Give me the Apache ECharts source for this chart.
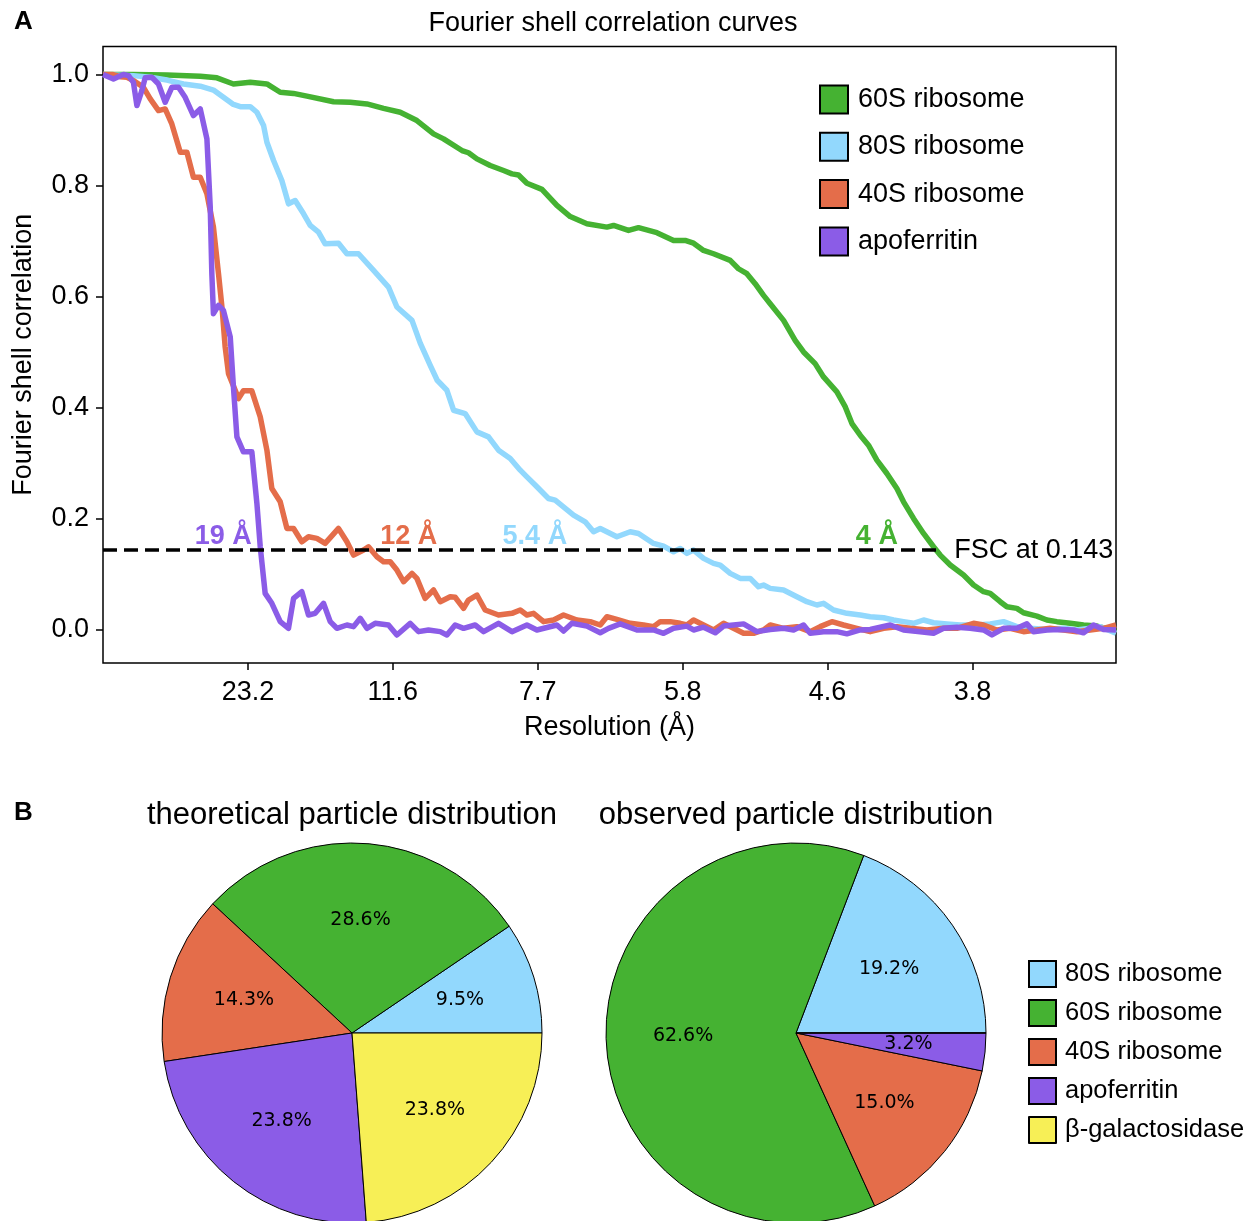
<!DOCTYPE html>
<html><head><meta charset="utf-8">
<script src="https://cdn.jsdelivr.net/npm/echarts@6/dist/echarts.min.js"></script>
<style>html,body{margin:0;padding:0;background:#fff}#c{width:1256px;height:1221px}</style>
</head><body><div id="c"></div>
<script>
// x values: spatial frequency in units of 1/23.2 Å^-1 (tick k => resolution 23.2/k Å)
const xTickValues = [1, 2, 3, 4, 5, 6];
const xTickLabels = ['23.2', '11.6', '7.7', '5.8', '4.6', '3.8'];
const yTickValues = [0, 0.2, 0.4, 0.6, 0.8, 1.0];
const seriesNames = ['60S ribosome', '80S ribosome', '40S ribosome', 'apoferritin'];

const fsc60S = [[0,1.0],[0.208,1.0],[0.441,0.999],[0.671,0.997],[0.786,0.994],[0.900,0.983],[1.016,0.986],[1.131,0.983],[1.223,0.968],[1.314,0.966],[1.407,0.961],[1.591,0.951],[1.706,0.950],[1.821,0.947],[1.936,0.939],[2.051,0.932],[2.166,0.917],[2.281,0.893],[2.350,0.884],[2.477,0.863],[2.522,0.859],[2.580,0.848],[2.672,0.836],[2.764,0.827],[2.822,0.821],[2.867,0.819],[2.925,0.804],[3.029,0.793],[3.132,0.764],[3.224,0.744],[3.339,0.731],[3.477,0.725],[3.523,0.728],[3.626,0.719],[3.695,0.724],[3.822,0.715],[3.937,0.701],[4.017,0.701],[4.075,0.696],[4.144,0.683],[4.213,0.677],[4.328,0.665],[4.385,0.650],[4.443,0.641],[4.500,0.623],[4.558,0.602],[4.604,0.587],[4.696,0.557],[4.776,0.521],[4.834,0.500],[4.914,0.479],[4.972,0.455],[5.064,0.428],[5.122,0.401],[5.168,0.371],[5.225,0.350],[5.282,0.332],[5.340,0.305],[5.409,0.281],[5.478,0.254],[5.524,0.230],[5.593,0.200],[5.662,0.173],[5.731,0.149],[5.777,0.134],[5.846,0.116],[5.938,0.098],[6.007,0.080],[6.076,0.068],[6.122,0.065],[6.191,0.050],[6.237,0.041],[6.306,0.038],[6.352,0.030],[6.444,0.024],[6.513,0.017],[6.582,0.014],[6.674,0.011],[6.766,0.008],[6.859,0.006],[6.99,-0.003]];

const fsc80S = [[0,1.0],[0.210,0.998],[0.326,0.995],[0.441,0.990],[0.555,0.983],[0.671,0.979],[0.762,0.972],[0.831,0.959],[0.900,0.946],[0.947,0.942],[1.016,0.942],[1.062,0.932],[1.108,0.908],[1.131,0.878],[1.177,0.845],[1.234,0.809],[1.280,0.767],[1.326,0.773],[1.384,0.749],[1.430,0.728],[1.487,0.716],[1.533,0.695],[1.625,0.696],[1.683,0.677],[1.763,0.677],[1.867,0.647],[1.970,0.617],[2.028,0.581],[2.132,0.557],[2.189,0.516],[2.258,0.476],[2.306,0.449],[2.373,0.431],[2.419,0.395],[2.499,0.389],[2.580,0.356],[2.660,0.347],[2.729,0.323],[2.810,0.308],[2.879,0.287],[2.925,0.275],[2.994,0.257],[3.074,0.236],[3.120,0.233],[3.247,0.206],[3.327,0.194],[3.385,0.176],[3.431,0.182],[3.546,0.167],[3.638,0.176],[3.695,0.173],[3.799,0.155],[3.868,0.150],[3.937,0.140],[3.983,0.146],[4.029,0.137],[4.075,0.143],[4.144,0.128],[4.213,0.119],[4.259,0.116],[4.328,0.101],[4.397,0.092],[4.466,0.092],[4.523,0.077],[4.558,0.080],[4.604,0.074],[4.696,0.071],[4.788,0.059],[4.857,0.050],[4.926,0.044],[4.972,0.047],[5.041,0.035],[5.133,0.029],[5.225,0.026],[5.294,0.023],[5.386,0.021],[5.455,0.017],[5.524,0.014],[5.593,0.011],[5.662,0.017],[5.731,0.012],[5.823,0.010],[5.915,0.008],[6.030,0.008],[6.122,0.010],[6.214,0.014],[6.306,0.005],[6.398,0.002],[6.513,0.000],[6.628,0.002],[6.720,-0.001],[6.812,0.002],[6.881,0.005],[6.99,-0.007]];

const fsc40S = [[0,1.0],[0.070,1.0],[0.119,0.996],[0.165,0.995],[0.210,0.989],[0.279,0.977],[0.326,0.956],[0.383,0.935],[0.429,0.938],[0.475,0.911],[0.533,0.860],[0.579,0.860],[0.624,0.815],[0.671,0.815],[0.717,0.785],[0.762,0.725],[0.797,0.641],[0.823,0.575],[0.843,0.509],[0.866,0.461],[0.935,0.416],[0.969,0.430],[1.027,0.430],[1.085,0.383],[1.131,0.323],[1.165,0.254],[1.223,0.230],[1.269,0.182],[1.315,0.182],[1.372,0.158],[1.418,0.167],[1.476,0.164],[1.533,0.155],[1.625,0.182],[1.683,0.158],[1.729,0.134],[1.798,0.143],[1.832,0.149],[1.890,0.131],[1.936,0.122],[1.982,0.122],[2.028,0.107],[2.074,0.086],[2.132,0.101],[2.166,0.092],[2.223,0.056],[2.281,0.071],[2.327,0.050],[2.396,0.059],[2.430,0.058],[2.488,0.038],[2.522,0.053],[2.580,0.062],[2.637,0.035],[2.729,0.026],[2.822,0.029],[2.879,0.035],[2.925,0.026],[2.971,0.029],[3.040,0.014],[3.109,0.017],[3.178,0.026],[3.270,0.017],[3.362,0.014],[3.431,0.008],[3.477,0.023],[3.546,0.018],[3.638,0.011],[3.730,0.008],[3.799,0.005],[3.845,0.014],[3.914,0.014],[3.983,0.011],[4.029,0.008],[4.075,0.017],[4.144,0.008],[4.213,-0.001],[4.282,0.011],[4.351,0.002],[4.420,-0.007],[4.489,-0.007],[4.558,-0.001],[4.604,0.008],[4.696,0.002],[4.788,0.005],[4.880,-0.004],[4.949,0.005],[5.030,0.014],[5.110,0.008],[5.202,0.002],[5.294,-0.004],[5.386,0.002],[5.478,0.005],[5.570,0.002],[5.685,-0.001],[5.800,0.002],[5.892,0.002],[6.007,0.011],[6.076,0.008],[6.168,-0.001],[6.260,0.002],[6.352,-0.004],[6.444,-0.001],[6.536,0.002],[6.628,-0.001],[6.720,-0.004],[6.812,-0.001],[6.904,0.002],[6.99,0.008]];

const fscApoferritin = [[0,1.0],[0.072,0.992],[0.141,1.0],[0.176,0.998],[0.210,0.986],[0.234,0.944],[0.268,0.971],[0.291,0.994],[0.337,0.995],[0.383,0.983],[0.429,0.950],[0.475,0.977],[0.521,0.977],[0.567,0.959],[0.624,0.926],[0.671,0.938],[0.717,0.884],[0.740,0.761],[0.751,0.641],[0.762,0.569],[0.797,0.584],[0.831,0.575],[0.878,0.527],[0.900,0.437],[0.924,0.347],[0.969,0.320],[1.027,0.320],[1.062,0.227],[1.085,0.149],[1.119,0.065],[1.165,0.047],[1.223,0.014],[1.280,0.002],[1.315,0.056],[1.372,0.068],[1.418,0.026],[1.464,0.029],[1.522,0.047],[1.568,0.014],[1.614,0.002],[1.683,0.008],[1.729,0.005],[1.775,0.020],[1.821,0.002],[1.878,0.011],[1.970,0.008],[2.028,-0.010],[2.120,0.011],[2.177,-0.004],[2.246,-0.001],[2.327,-0.004],[2.373,-0.010],[2.430,0.008],[2.488,0.002],[2.568,0.008],[2.626,-0.004],[2.729,0.011],[2.822,-0.004],[2.925,0.008],[2.994,-0.001],[3.132,0.008],[3.178,-0.003],[3.236,0.011],[3.339,0.006],[3.431,-0.006],[3.488,0.002],[3.569,0.010],[3.684,-0.001],[3.799,-0.001],[3.868,-0.007],[3.937,0.002],[4.029,0.006],[4.075,-0.001],[4.144,0.004],[4.225,-0.006],[4.282,0.006],[4.351,0.008],[4.420,0.010],[4.512,-0.004],[4.604,0.000],[4.696,0.002],[4.765,-0.001],[4.834,0.008],[4.880,-0.007],[4.972,-0.004],[5.064,-0.004],[5.133,-0.008],[5.225,-0.001],[5.294,0.000],[5.432,0.008],[5.524,-0.001],[5.639,-0.004],[5.731,-0.007],[5.800,0.002],[5.892,0.004],[5.984,0.002],[6.076,-0.001],[6.134,-0.010],[6.214,0.002],[6.306,0.002],[6.375,0.010],[6.421,-0.004],[6.513,-0.001],[6.605,0.000],[6.697,-0.001],[6.766,-0.006],[6.835,0.008],[6.904,0.000],[6.99,-0.001]];

const fscThreshold = 0.143;
const fscLineEndX = 5.75;
const fscLabelX = 5.87;
const resolutionLabels = ['19 Å', '12 Å', '5.4 Å', '4 Å'];
const resolutionLabelX = [0.83, 2.11, 2.98, 5.34];
const resolutionLabelY = 0.168;

const pieCategories = ['80S ribosome', '60S ribosome', '40S ribosome', 'apoferritin', 'β-galactosidase'];
const theoreticalPct = [9.5, 28.6, 14.3, 23.8, 23.8];
const observedPct = [19.2, 62.6, 15.0, 3.2, 0];

const colorOf = {
  '60S ribosome': '#45b232',
  '80S ribosome': '#92d8fd',
  '40S ribosome': '#e46d4a',
  'apoferritin': '#8b5ce7',
  'β-galactosidase': '#f7ef56'
};
const FONT = "'Liberation Sans', Arial, Helvetica, sans-serif";
const PIE_FONT = "'DejaVu Sans', sans-serif";

const chart = echarts.init(document.getElementById('c'), null, {renderer: 'canvas'});

const curveData = [fsc60S, fsc80S, fsc40S, fscApoferritin];
const lineSeries = seriesNames.map((n, i) => ({
  name: n, type: 'line', data: curveData[i], showSymbol: false, symbol: 'none',
  itemStyle: {color: colorOf[n]},
  lineStyle: {color: colorOf[n], width: 5.5, join: 'round'},
  animation: false, z: 3 + i
}));

const labelColors = [colorOf['apoferritin'], colorOf['40S ribosome'], colorOf['80S ribosome'], colorOf['60S ribosome']];

function pieData(vals) {
  return pieCategories.map((n, i) => ({name: n, value: vals[i], itemStyle: {color: colorOf[n]}}));
}
function pieLabelData(vals) {
  return pieCategories.map((n, i) => ({name: n, value: vals[i], label: {show: vals[i] > 0}}));
}
function pieSeries(vals, cx) {
  return [{
    type: 'pie', center: [cx, 1033], radius: [0, 190], startAngle: 0, clockwise: false,
    data: pieData(vals), label: {show: false}, labelLine: {show: false},
    itemStyle: {borderColor: '#000', borderWidth: 1}, emphasis: {disabled: true}, silent: true, animation: false
  }, {
    type: 'pie', center: [cx, 1033], radius: [30, 190], startAngle: 0, clockwise: false,
    data: pieLabelData(vals), itemStyle: {color: 'rgba(0,0,0,0)', borderWidth: 0},
    label: {show: true, position: 'inside', fontFamily: PIE_FONT, fontSize: 19, color: '#000', textBorderWidth: 0, opacity: 1,
      formatter: p => p.value.toFixed(1) + '%'},
    labelLine: {show: false}, emphasis: {disabled: true}, silent: true, animation: false, z: 5
  }];
}

const option = {
  backgroundColor: '#fff',
  animation: false,
  textStyle: {fontFamily: FONT},
  grid: {left: 103, top: 46.5, width: 1013, height: 616.5, show: true, borderColor: '#000', borderWidth: 1.5},
  xAxis: {
    type: 'value', min: 0, max: 6.99,
    name: 'Resolution (Å)', nameLocation: 'middle', nameGap: 51,
    nameTextStyle: {fontSize: 27, color: '#000', fontFamily: FONT},
    axisLine: {show: false, onZero: false},
    axisTick: {show: true, inside: false, customValues: xTickValues, length: 7, lineStyle: {color: '#000', width: 1.5}},
    axisLabel: {customValues: xTickValues, fontSize: 27, color: '#000', fontFamily: FONT, margin: 16,
      formatter: v => xTickLabels[xTickValues.indexOf(Math.round(v))] || ''},
    splitLine: {show: false}
  },
  yAxis: {
    type: 'value', min: -0.0605, max: 1.0505,
    name: 'Fourier shell correlation', nameLocation: 'middle', nameGap: 66,
    nameTextStyle: {fontSize: 27, color: '#000', fontFamily: FONT},
    axisLine: {show: false, onZero: false},
    axisTick: {show: true, inside: false, customValues: yTickValues, length: 7, lineStyle: {color: '#000', width: 1.5}},
    axisLabel: {customValues: yTickValues, fontSize: 27, color: '#000', fontFamily: FONT, margin: 14,
      formatter: v => v.toFixed(1)},
    splitLine: {show: false}
  },
  legend: [{
    data: seriesNames, orient: 'vertical', left: 819, top: 84.5, padding: 0, itemWidth: 28, itemHeight: 28, itemGap: 17.3,
    icon: 'rect', selectedMode: false,
    itemStyle: {borderColor: '#000', borderWidth: 2},
    textStyle: {fontSize: 27, color: '#000', fontFamily: FONT, padding: [0, 0, 0, 5]}
  }, {
    data: pieCategories, orient: 'vertical', left: 1028, top: 960, padding: 0, itemWidth: 27, itemHeight: 26, itemGap: 11,
    icon: 'rect', selectedMode: false,
    itemStyle: {borderColor: '#000', borderWidth: 2},
    textStyle: {fontSize: 25.5, color: '#000', fontFamily: FONT, padding: [0, 0, 0, 4]}
  }],
  graphic: [
    {type: 'text', x: 14, y: 22, style: {text: 'A', font: "bold 26px " + FONT, fill: '#000', textVerticalAlign: 'middle'}},
    {type: 'text', x: 613, y: 24, style: {text: 'Fourier shell correlation curves', font: "27px " + FONT, fill: '#000', textAlign: 'center', textVerticalAlign: 'middle'}},
    {type: 'text', x: 14, y: 813, style: {text: 'B', font: "bold 26px " + FONT, fill: '#000', textVerticalAlign: 'middle'}},
    {type: 'text', x: 352, y: 815, style: {text: 'theoretical particle distribution', font: "31px " + FONT, fill: '#000', textAlign: 'center', textVerticalAlign: 'middle'}},
    {type: 'text', x: 796, y: 815, style: {text: 'observed particle distribution', font: "31px " + FONT, fill: '#000', textAlign: 'center', textVerticalAlign: 'middle'}}
  ],
  series: [
    ...lineSeries,
    {
      type: 'line', data: [[0, fscThreshold], [fscLineEndX, fscThreshold]], symbol: 'none',
      lineStyle: {color: '#000', width: 3.5, type: [14, 7]}, z: 8, silent: true, animation: false
    },
    {
      type: 'scatter', symbolSize: 1, itemStyle: {color: 'rgba(0,0,0,0)', opacity: 1}, z: 9, silent: true,
      data: resolutionLabels.map((t, i) => ({value: [resolutionLabelX[i], resolutionLabelY], name: t,
        label: {show: true, position: 'inside', formatter: t, color: labelColors[i], opacity: 1, textBorderWidth: 0, fontSize: 27, fontWeight: 'bold', fontFamily: FONT}}))
    },
    {
      type: 'scatter', symbolSize: 1, itemStyle: {color: 'rgba(0,0,0,0)', opacity: 1}, z: 9, silent: true,
      data: [{value: [fscLabelX, fscThreshold], label: {show: true, position: 'right', distance: 0, opacity: 1, formatter: 'FSC at 0.143', color: '#000', fontSize: 27, fontFamily: FONT}}]
    },
    ...pieSeries(theoreticalPct, 352),
    ...pieSeries(observedPct, 796)
  ]
};
chart.setOption(option);
</script></body></html>
